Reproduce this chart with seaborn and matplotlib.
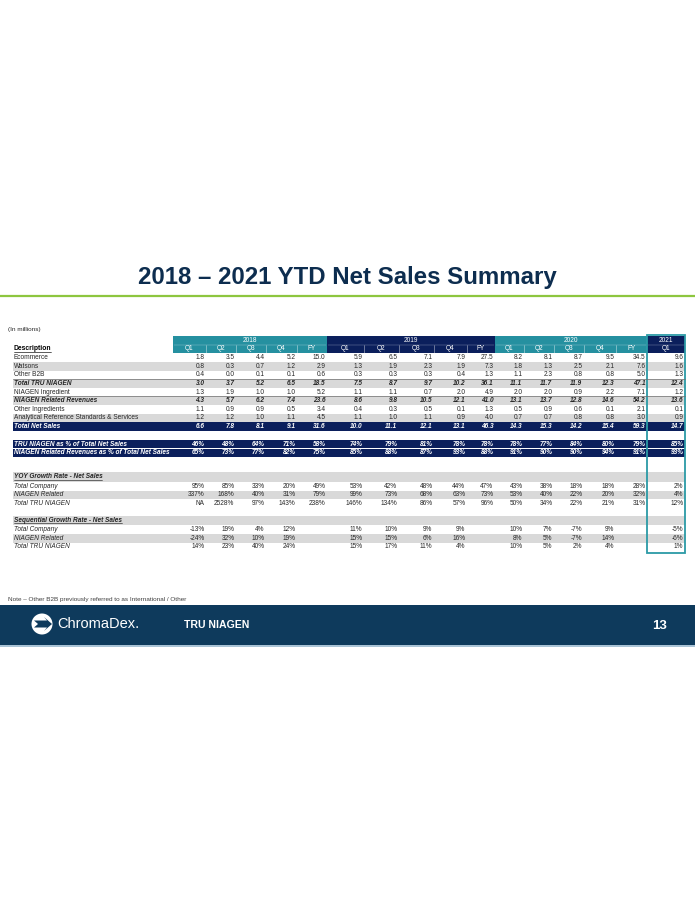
import matplotlib
matplotlib.use("Agg")
import matplotlib.pyplot as plt
import seaborn as sns
from matplotlib.patches import Rectangle, Circle, Polygon

# ---------------- data ----------------
years = ["2018", "2019", "2020", "2021"]
year_quarters = [["Q1", "Q2", "Q3", "Q4", "FY"],
                 ["Q1", "Q2", "Q3", "Q4", "FY"],
                 ["Q1", "Q2", "Q3", "Q4", "FY"],
                 ["Q1"]]

sales_labels = ["Ecommerce", "Watsons", "Other B2B", "Total TRU NIAGEN",
                "NIAGEN Ingredient", "NIAGEN Related Revenues",
                "Other Ingredients", "Analytical Reference Standards & Services",
                "Total Net Sales"]
ecommerce = [1.8, 3.5, 4.4, 5.2, 15.0, 5.9, 6.5, 7.1, 7.9, 27.5, 8.2, 8.1, 8.7, 9.5, 34.5, 9.6]
watsons = [0.8, 0.3, 0.7, 1.2, 2.9, 1.3, 1.9, 2.3, 1.9, 7.3, 1.8, 1.3, 2.5, 2.1, 7.6, 1.6]
other_b2b = [0.4, 0.0, 0.1, 0.1, 0.6, 0.3, 0.3, 0.3, 0.4, 1.3, 1.1, 2.3, 0.8, 0.8, 5.0, 1.3]
total_tru = [3.0, 3.7, 5.2, 6.5, 18.5, 7.5, 8.7, 9.7, 10.2, 36.1, 11.1, 11.7, 11.9, 12.3, 47.1, 12.4]
niagen_ingredient = [1.3, 1.9, 1.0, 1.0, 5.2, 1.1, 1.1, 0.7, 2.0, 4.9, 2.0, 2.0, 0.9, 2.2, 7.1, 1.2]
niagen_related = [4.3, 5.7, 6.2, 7.4, 23.6, 8.6, 9.8, 10.5, 12.1, 41.0, 13.1, 13.7, 12.8, 14.6, 54.2, 13.6]
other_ingredients = [1.1, 0.9, 0.9, 0.5, 3.4, 0.4, 0.3, 0.5, 0.1, 1.3, 0.5, 0.9, 0.6, 0.1, 2.1, 0.1]
analytical = [1.2, 1.2, 1.0, 1.1, 4.5, 1.1, 1.0, 1.1, 0.9, 4.0, 0.7, 0.7, 0.8, 0.8, 3.0, 0.9]
total_net_sales = [6.6, 7.8, 8.1, 9.1, 31.6, 10.0, 11.1, 12.1, 13.1, 46.3, 14.3, 15.3, 14.2, 15.4, 59.3, 14.7]
sales_values = [ecommerce, watsons, other_b2b, total_tru, niagen_ingredient,
                niagen_related, other_ingredients, analytical, total_net_sales]
bold_sales = ["Total TRU NIAGEN", "NIAGEN Related Revenues", "Total Net Sales"]

pct_labels = ["TRU NIAGEN as % of Total Net Sales",
              "NIAGEN Related Revenues as % of Total Net Sales"]
tru_pct = [46, 48, 64, 71, 58, 74, 79, 81, 78, 78, 78, 77, 84, 80, 79, 85]
related_pct = [65, 73, 77, 82, 75, 85, 88, 87, 93, 88, 91, 90, 90, 94, 91, 93]
pct_values = [tru_pct, related_pct]

yoy_title = "YOY Growth Rate - Net Sales"
yoy_labels = ["Total Company", "NIAGEN Related", "Total TRU NIAGEN"]
yoy_company = [95, 85, 33, 20, 49, 53, 42, 48, 44, 47, 43, 38, 18, 18, 28, 2]
yoy_related = [337, 168, 40, 31, 79, 99, 73, 68, 63, 73, 53, 40, 22, 20, 32, 4]
yoy_tru = ["NA", 2528, 97, 143, 238, 146, 134, 86, 57, 96, 50, 34, 22, 21, 31, 12]
yoy_values = [yoy_company, yoy_related, yoy_tru]

seq_title = "Sequential Growth Rate - Net Sales"
seq_labels = ["Total Company", "NIAGEN Related", "Total TRU NIAGEN"]
seq_company = [-13, 19, 4, 12, None, 11, 10, 9, 9, None, 10, 7, -7, 9, None, -5]
seq_related = [-24, 32, 10, 19, None, 15, 15, 6, 16, None, 8, 5, -7, 14, None, -6]
seq_tru = [14, 23, 40, 24, None, 15, 17, 11, 4, None, 10, 5, 2, 4, None, 1]
seq_values = [seq_company, seq_related, seq_tru]

title = "2018 \u2013 2021 YTD Net Sales Summary"
units = "(In millions)"
note = "Note \u2013 Other B2B previously referred to as International / Other"
page_no = "13"

# ---------------- style ----------------
sns.set_theme(style="white")
plt.rcParams["font.family"] = ["Liberation Sans", "DejaVu Sans"]

NAVY = "#0b1f5c"
TEAL = "#2590a0"
GRAY = "#d9d9d9"
TXT = "#262626"
BOX = "#2b9aa6"
FOOT = "#0e3a5c"

fig = plt.figure(figsize=(6.95, 9.0), dpi=100)
ax = fig.add_axes([0, 0, 1, 1])
ax.set_xlim(0, 695)
ax.set_ylim(900, 0)
ax.axis("off")

edges = [173, 206, 236, 266, 297, 327, 364, 399, 434, 467, 495,
         524, 554, 584, 616, 647, 685]
left_x, right_x = 13, 685
fs = 4.7
step = 8.6

# title
ax.text(347.5, 277.5, title, ha="center", va="center", fontsize=17.3,
        fontweight="bold", color="#0d2d4f")
ax.plot([0, 695], [296, 296], color="#8dc63f", lw=1.6, solid_capstyle="butt")
ax.text(8, 330, units, ha="left", va="center", fontsize=4.6, color=TXT)

# header
hdr_top, hdr_mid, hdr_bot = 336, 344.5, 353
col = 0
for yi, (yr, qs) in enumerate(zip(years, year_quarters)):
    x0, x1 = edges[col], edges[col + len(qs)]
    c = TEAL if yi % 2 == 0 else NAVY
    ax.add_patch(Rectangle((x0, hdr_top), x1 - x0, hdr_bot - hdr_top, color=c, lw=0))
    ax.text((x0 + x1) / 2, 340.5, yr, ha="center", va="center", fontsize=fs, color="white")
    for qi, q in enumerate(qs):
        a, b = edges[col + qi], edges[col + qi + 1]
        ax.text((a + b) / 2, 348.8, q, ha="center", va="center", fontsize=fs, color="white")
        if qi > 0:
            ax.plot([a, a], [hdr_mid + 0.5, hdr_bot], color="white", lw=0.4, alpha=0.7)
    ax.plot([x0 + 1, x1 - 1], [hdr_mid, hdr_mid], color="white", lw=0.3, alpha=0.5)
    col += len(qs)
desc = ax.text(14, 349, "Description", ha="left", va="center", fontsize=fs + 0.2,
               fontweight="bold", color="black")


def fmt_num(v):
    return f"{v:.1f}"


def fmt_pct(v):
    if v is None:
        return ""
    if isinstance(v, str):
        return v
    return f"{v:d}%"


def draw_values(y, vals, fmt, color=TXT, weight="normal", style="normal"):
    for i, v in enumerate(vals):
        ax.text(edges[i + 1] - 1.5, y, fmt(v), ha="right", va="center",
                fontsize=fs, color=color, fontweight=weight, fontstyle=style)


# sales block
y0 = 357.7
for i, (lab, vals) in enumerate(zip(sales_labels, sales_values)):
    y = y0 + i * step
    is_total = lab == "Total Net Sales"
    bold = lab in bold_sales
    if is_total:
        ax.add_patch(Rectangle((left_x, y - step / 2), right_x - left_x, step, color=NAVY, lw=0))
    elif i % 2 == 1:
        ax.add_patch(Rectangle((left_x, y - step / 2), right_x - left_x, step, color=GRAY, lw=0))
    if lab in ("Total TRU NIAGEN", "NIAGEN Related Revenues"):
        ax.plot([left_x, right_x], [y - step / 2, y - step / 2], color="#6e6e6e", lw=0.5)
    col_t = "white" if is_total else TXT
    w = "bold" if bold else "normal"
    s = "italic" if bold else "normal"
    ax.text(14, y, lab, ha="left", va="center", fontsize=fs, color=col_t,
            fontweight=w, fontstyle=s)
    draw_values(y, vals, fmt_num, color=col_t, weight=w, style=s)

# percentage block
yp = 444.3
for i, (lab, vals) in enumerate(zip(pct_labels, pct_values)):
    y = yp + i * step
    ax.add_patch(Rectangle((left_x, y - step / 2 + 0.3), right_x - left_x, step - 0.6,
                           color=NAVY, lw=0))
    ax.text(14, y, lab, ha="left", va="center", fontsize=fs, color="white",
            fontweight="bold", fontstyle="italic")
    draw_values(y, vals, fmt_pct, color="white", weight="bold", style="italic")

# growth blocks
underline_items = []


def growth_block(ytop, head, labels, values):
    ax.add_patch(Rectangle((left_x, ytop - step / 2 - 0.6), right_x - left_x, step + 1.2,
                           color=GRAY, lw=0))
    t = ax.text(14, ytop, head, ha="left", va="center", fontsize=fs, color=TXT,
                fontweight="bold", fontstyle="italic")
    underline_items.append((t, ytop))
    for i, (lab, vals) in enumerate(zip(labels, values)):
        y = ytop + 9.2 + i * step
        if i == 1:
            ax.add_patch(Rectangle((left_x, y - step / 2), right_x - left_x, step, color=GRAY, lw=0))
        ax.text(14, y, lab, ha="left", va="center", fontsize=fs, color=TXT, fontstyle="italic")
        draw_values(y, vals, fmt_pct)


growth_block(477.0, yoy_title, yoy_labels, yoy_values)
growth_block(520.4, seq_title, seq_labels, seq_values)
underline_items.append((desc, 349))

# 2021 highlight box
ax.add_patch(Rectangle((edges[-2], 335), edges[-1] - edges[-2], 218, fill=False,
                       edgecolor=BOX, lw=1.3))

# note and footer
ax.text(8, 599, note, ha="left", va="center", fontsize=4.6, color="#404040")
ax.add_patch(Rectangle((0, 605), 695, 40, color=FOOT, lw=0))
ax.add_patch(Rectangle((0, 645), 695, 1.8, color="#a9c3d6", lw=0))
ax.add_patch(Circle((42, 624), 10.5, color="white", lw=0))
ax.add_patch(Polygon([[34, 620.5], [47, 620.5], [44, 617], [52, 624], [44, 631],
                      [47, 627.5], [34, 627.5], [38, 624]], closed=True, color=FOOT, lw=0))
ax.text(57, 624, "ChromaDex.", ha="left", va="center", fontsize=10.5, color="white",
        fontweight="light")
ax.text(184, 625, "TRU NIAGEN", ha="left", va="center", fontsize=7.6, color="white",
        fontweight="bold")
ax.text(667, 626, page_no, ha="right", va="center", fontsize=9.5, color="white",
        fontweight="bold")

# underlines under section headings
fig.canvas.draw()
r = fig.canvas.get_renderer()
inv = ax.transData.inverted()
for t, yc in underline_items:
    bb = t.get_window_extent(renderer=r)
    (xa, _), (xb, _) = inv.transform([[bb.x0, bb.y0], [bb.x1, bb.y1]])
    ybase = yc + 2.6
    ax.plot([xa, xb - 0.5], [ybase, ybase], color=t.get_color(), lw=0.45)

fig.savefig("out.png", dpi=100, facecolor="white")
